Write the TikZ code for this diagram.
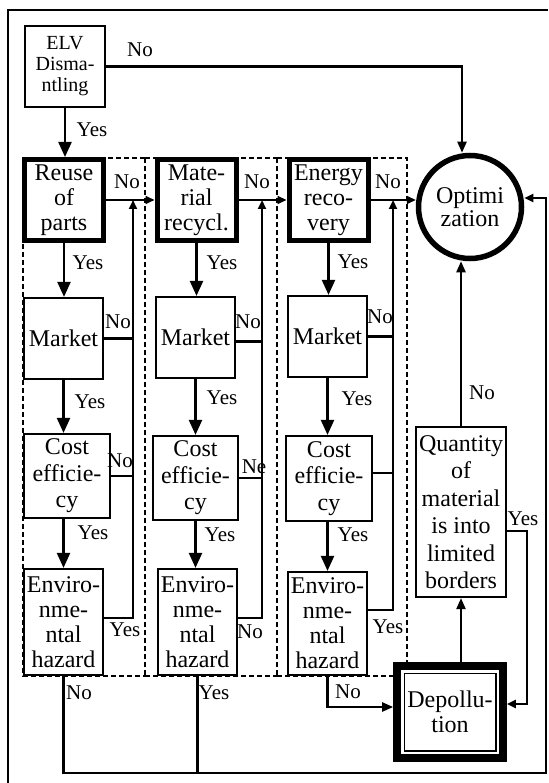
\documentclass[tikz,border=0pt]{standalone}
\usepackage{fontspec}
\setmainfont{Liberation Serif}
\usetikzlibrary{arrows.meta,fit}
\begin{document}
\begin{tikzpicture}[x=1pt,y=-1pt,
  box/.style={draw,line width=2.2pt,fill=white,inner sep=0pt,align=center,
    font=\fontsize{24}{25}\selectfont},
  stagebox/.style={box,line width=5pt},
  lbl/.style={inner sep=0pt,font=\fontsize{21}{21}\selectfont},
  conn/.style={line width=2.2pt},
  bigarr/.style={conn,-{Triangle[length=15pt,width=13pt]}},
  midarr/.style={conn,-{Triangle[length=11pt,width=9pt]}},
  smallarr/.style={conn,-{Triangle[length=9pt,width=8pt]}},
  group/.style={line width=1.4pt,dash pattern=on 5pt off 3pt}
]
\useasboundingbox (0,0) rectangle (548,783);

% outer frame
\draw[line width=1.8pt] (8,783) -- (8,10) -- (548,10);

% dashed groups of the three recovery routes (shared edges drawn once)
\draw[group] (145,158) -- (23,158) -- (23,676) -- (145,676);
\draw[group] (145,158) -- (145,676);
\draw[group] (145,158) -- (277,158);
\draw[group] (145,676) -- (277,676);
\draw[group] (277,158) -- (277,676);
\draw[group] (277,158) -- (407,158) -- (407,662);
\draw[group] (277,676) -- (393,676);

% start
\node[box,font=\fontsize{20}{21}\selectfont,minimum width=80pt,minimum height=81pt]
  (elv) at (65,66.5) {ELV\\Disma-\\ntling};

% recovery stages
\node[stagebox,minimum width=79pt,minimum height=81pt] (reuse) at (64,200) {Reuse\\of\\parts};
\node[stagebox,minimum width=79pt,minimum height=81pt] (mat) at (196.5,200) {Mate-\\rial\\recycl.};
\node[stagebox,minimum width=79pt,minimum height=81pt] (ene) at (328.5,200) {Energy\\reco-\\very};

% market checks
\node[box,minimum width=79pt,minimum height=81pt] (m1) at (63.5,338.5) {Market};
\node[box,minimum width=79pt,minimum height=81pt] (m2) at (195.5,337.5) {Market};
\node[box,minimum width=79pt,minimum height=81pt] (m3) at (327.5,336.5) {Market};

% cost checks
\node[box,font=\fontsize{24}{26.5}\selectfont,minimum width=86pt,minimum height=84pt] (c1) at (67,476) {Cost\\efficie-\\cy};
\node[box,font=\fontsize{24}{26.5}\selectfont,minimum width=85pt,minimum height=84pt] (c2) at (195.5,478) {Cost\\efficie-\\cy};
\node[box,font=\fontsize{24}{26.5}\selectfont,minimum width=86pt,minimum height=85pt] (c3) at (329,478.5) {Cost\\efficie-\\cy};

% hazard checks
\node[box,minimum width=79pt,minimum height=106pt] (e1) at (63.5,622) {Enviro-\\nme-\\ntal\\hazard};
\node[box,minimum width=79pt,minimum height=106pt] (e2) at (197.5,622) {Enviro-\\nme-\\ntal\\hazard};
\node[box,minimum width=79pt,minimum height=103pt] (e3) at (327.5,623.5) {Enviro-\\nme-\\ntal\\hazard};

% goal
\node[circle,draw,line width=5.5pt,minimum size=103pt,inner sep=0pt,align=center,
  font=\fontsize{24}{23}\selectfont] (opt) at (470,207) {Optimi\\zation};

% quantity check and depollution
\node[box,font=\fontsize{24}{27.5}\selectfont,minimum width=90pt,minimum height=170pt]
  (quant) at (461,512) {Quantity\\of\\material\\is into\\limited\\borders};
\node[box,line width=1.5pt,minimum width=91.5pt,minimum height=77.5pt] (depol) at (450,712) {Depollu-\\tion};
\node[fit=(depol),draw,line width=8pt,inner sep=6.3pt] (depolout) {};

% connectors
\coordinate (r1) at (133,200);
\coordinate (r2) at (262,200);
\coordinate (r3) at (393,200);
\coordinate (lc) at (546,773);
\coordinate (optin) at ([yshift=9pt]opt.east);
\coordinate (qy) at (527,704);

\draw[bigarr] (elv.south) -- (elv.south |- reuse.north);
\draw[midarr] (elv.east) -| ([xshift=-8pt]opt.north);

\draw[smallarr] (reuse.east) -- (mat.west);
\draw[smallarr] (mat.east) -- (ene.west);
\draw[smallarr] (ene.east) -- (opt.west |- ene.east);

\draw[bigarr] (reuse.south) -- (reuse.south |- m1.north);
\draw[bigarr] (m1.south) -- (m1.south |- c1.north);
\draw[bigarr] (m1.south |- c1.south) -- (m1.south |- e1.north);
\draw[bigarr] (mat.south) -- (mat.south |- m2.north);
\draw[bigarr] (m2.south) -- (m2.south |- c2.north);
\draw[bigarr] (c2.south) -- (c2.south |- e2.north);
\draw[bigarr] (ene.south) -- (ene.south |- m3.north);
\draw[bigarr] (m3.south) -- (m3.south |- c3.north);
\draw[bigarr] (m3.south |- c3.south) -- (m3.south |- e3.north);

\draw[smallarr] ([yshift=4pt]e1.east) -| (r1);
\draw[conn] (m1.east) -- (m1.east -| r1);
\draw[conn] (c1.east) -- (c1.east -| r1);
\draw[smallarr] ([yshift=4pt]e2.east) -| (r2);
\draw[conn] ([yshift=-4pt]m2.east) -- ([yshift=-4pt]m2.east -| r2);
\draw[conn] (c2.east) -- (c2.east -| r2);
\draw[smallarr] ([yshift=13.5pt]e3.east) -| (r3);
\draw[conn] (m3.east) -- (m3.east -| r3);
\draw[conn] ([yshift=5.5pt]c3.east) -- ([yshift=5.5pt]c3.east -| r3);

\draw[smallarr] (e1.south) |- (lc) |- (optin);
\draw[conn] (e2.south) -- (e2.south |- lc);
\draw[midarr] (e3.south) |- ([yshift=5pt]depolout.west);

\draw[midarr] (quant.south |- depolout.north) -- (quant.south);
\draw[midarr] (quant.north) -- (quant.north |- opt.south);
\draw[smallarr] ([yshift=-19pt]quant.east) -| (qy) -- (qy -| depolout.east);

% branch labels
\node[lbl] (l0) at (140,50) {No};
\node[lbl] (l1) at (92,130) {Yes};
\node[lbl] (l2) at (127,182) {No};
\node[lbl] (l3) at (257,182) {No};
\node[lbl] (l4) at (388,182) {No};

\node[lbl] (a1) at (88,263) {Yes};
\node[lbl] (a2) at (118,322) {No};
\node[lbl] (a3) at (90,402) {Yes};
\node[lbl] (a4) at (120,461) {No};
\node[lbl] (a5) at (93,533) {Yes};
\node[lbl] (a6) at (125,630) {Yes};
\node[lbl] (a7) at (79,693) {No};

\node[lbl] (b1) at (222,263) {Yes};
\node[lbl] (b2) at (248,322) {No};
\node[lbl] (b3) at (222,398) {Yes};
\node[lbl] (b4) at (254,467) {Ne};
\node[lbl] (b5) at (220,535) {Yes};
\node[lbl] (b6) at (250,632) {No};
\node[lbl] (b7) at (214,693) {Yes};

\node[lbl] (d1) at (353,262) {Yes};
\node[lbl] (d2) at (380,317) {No};
\node[lbl] (d3) at (357,399) {Yes};
\node[lbl] (d5) at (353,535) {Yes};
\node[lbl] (d6) at (388,627) {Yes};
\node[lbl] (d7) at (348,692) {No};

\node[lbl] (q1) at (482,393) {No};
\node[lbl] (q2) at (523,519) {Yes};
\end{tikzpicture}
\end{document}
